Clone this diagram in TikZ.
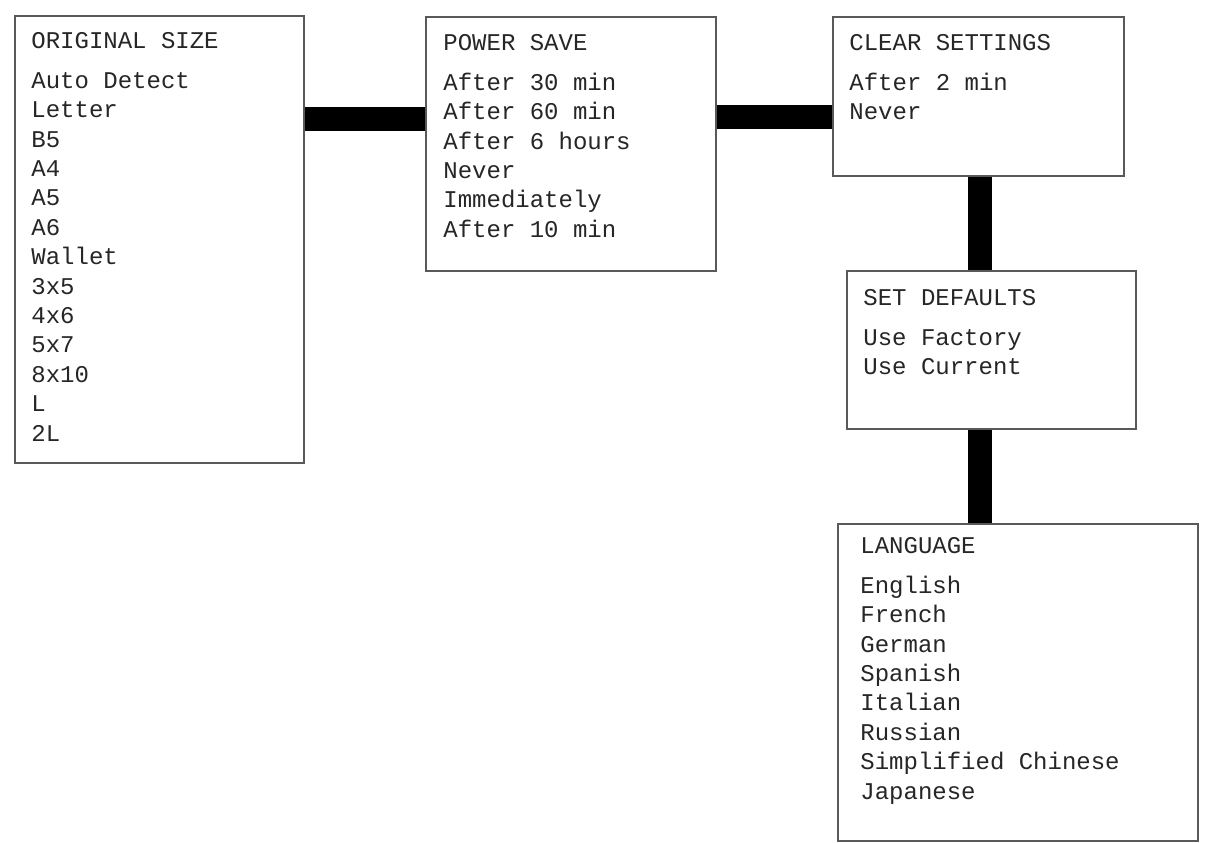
\documentclass[tikz,border=0pt]{standalone}
\usepackage{fontspec}
\setmonofont{Liberation Mono}
\usetikzlibrary{calc}

\begin{document}
\begin{tikzpicture}[x=0.5pt,y=-0.5pt,menu/.style={draw=black!65,line width=1pt,fill=white,anchor=north west,inner sep=0pt},entries/.style={anchor=north west,align=left,inner sep=0pt,font=\ttfamily\fontsize{12}{14.7}\selectfont,text=black!85},bar/.style={line width=12pt}]
  \useasboundingbox (0,0) rectangle (1209,842);

  \node[menu,minimum width=144.5pt,minimum height=223.5pt] (orig) at (14,15) {};
  \node[menu,minimum width=145pt,minimum height=127pt] (save) at (425,16) {};
  \node[menu,minimum width=145.5pt,minimum height=79.5pt] (clear) at (832,16) {};
  \node[menu,minimum width=144.5pt,minimum height=79pt] (defaults) at (846,270) {};
  \node[menu,minimum width=180pt,minimum height=158.5pt] (lang) at (837,523) {};

  \node[entries] (orig text) at ($ (orig.north west) + (17,12.4) $) {\strut ORIGINAL SIZE\\[5.3pt]
      Auto Detect\\Letter\\B5\\A4\\A5\\A6\\Wallet\\3x5\\4x6\\5x7\\8x10\\L\\2L};
  \node[entries] (save text) at ($ (save.north west) + (18,13.4) $) {\strut POWER SAVE\\[5.3pt]
      After 30 min\\After 60 min\\After 6 hours\\Never\\Immediately\\After 10 min};
  \node[entries] (clear text) at ($ (clear.north west) + (17,13.4) $) {\strut CLEAR SETTINGS\\[5.3pt]
      After 2 min\\Never};
  \node[entries] (defaults text) at ($ (defaults.north west) + (17,14.4) $) {\strut SET DEFAULTS\\[5.3pt]
      Use Factory\\Use Current};
  \node[entries] (lang text) at ($ (lang.north west) + (23,9.4) $) {\strut LANGUAGE\\[5.3pt]
      English\\French\\German\\Spanish\\Italian\\Russian\\Simplified Chinese\\Japanese};

  \draw[bar] ($ (orig.north east) + (0,104) $) -- ($ (save.north west) + (0,103) $);
  \draw[bar] ($ (save.north east) + (0,101) $) -- ($ (clear.north west) + (0,101) $);
  \draw[bar] ($ (clear.south west) + (148,0) $) -- ($ (defaults.north west) + (134,0) $);
  \draw[bar] ($ (defaults.south west) + (134,0) $) -- ($ (lang.north west) + (143,0) $);
\end{tikzpicture}
\end{document}
